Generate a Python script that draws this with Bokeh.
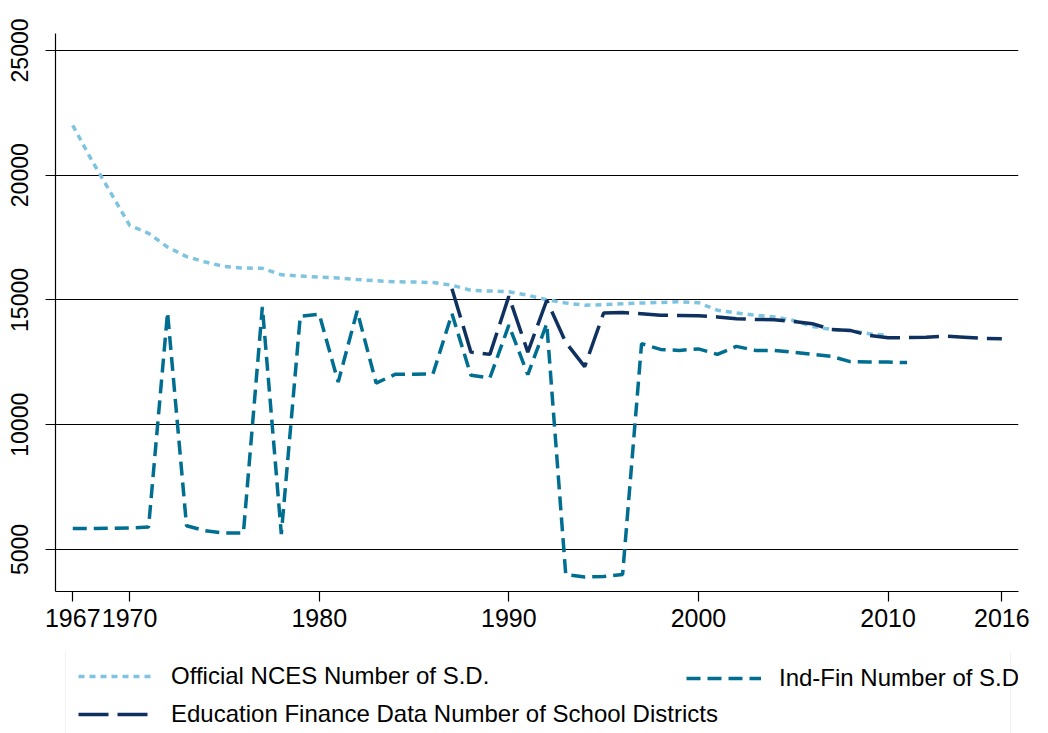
from bokeh.plotting import figure
from bokeh.models import FixedTicker, Legend, Range1d
from bokeh.layouts import column
from bokeh.embed import file_html
from bokeh.resources import INLINE

# ---- data -------------------------------------------------------------
years_nces = list(range(1967, 2011))
nces = [22000, 20600, 19300, 17990, 17670, 17120, 16740, 16520, 16340, 16280,
        16270, 16010, 15960, 15920, 15880, 15820, 15770, 15730, 15720, 15700,
        15590, 15390, 15360, 15330, 15190, 15010, 14880, 14790, 14810, 14850,
        14880, 14900, 14930, 14890, 14590, 14480, 14390, 14320, 14180, 13940,
        13820, 13780, 13650, 13580]

years_indfin = list(range(1967, 2012))
indfin = [5840, 5840, 5850, 5860, 5900, 14500, 5950, 5750, 5660, 5660,
          14720, 5620, 14350, 14430, 11710, 14560, 11670, 12020, 12020, 12040,
          14450, 11980, 11880, 13990, 12010, 14050, 4000, 3900, 3920, 4000,
          13250, 13020, 12980, 13040, 12820, 13140, 12980, 12980, 12910, 12820,
          12740, 12530, 12510, 12510, 12490]

years_efd = list(range(1987, 2017))
efd = [15450, 12910, 12820, 15150, 12910, 14990, 13300, 12330, 14480, 14500,
       14450, 14390, 14380, 14370, 14320, 14250, 14220, 14210, 14140, 14050,
       13820, 13780, 13580, 13490, 13490, 13510, 13550, 13510, 13460, 13450]

x_ticks = [1967, 1970, 1980, 1990, 2000, 2010, 2016]
y_ticks = [5000, 10000, 15000, 20000, 25000]

labels = ["Official NCES Number of S.D.",
          "Ind-Fin Number of S.D.",
          "Education Finance Data Number of School Districts"]

series = [(years_nces, nces, "#7ec4e0", "6 5"),
          (years_indfin, indfin, "#006e91", "14 7"),
          (years_efd, efd, "#0e3160", "30 9")]

FONT = "Liberation Sans"

# ---- main chart -------------------------------------------------------
p = figure(width=1048, height=652, output_backend="svg", toolbar_location=None,
           x_range=Range1d(1966.09, 2016.88), y_range=Range1d(3317, 25680),
           min_border_left=55, min_border_right=30, min_border_top=33,
           min_border_bottom=61)
p.outline_line_color = None
p.background_fill_color = "white"
p.border_fill_color = "white"

for xs, ys, col, dash in series:
    p.line(xs, ys, line_color=col, line_width=3.5, line_dash=dash)

p.xgrid.visible = False
p.ygrid.ticker = FixedTicker(ticks=y_ticks)
p.ygrid.grid_line_color = "black"
p.ygrid.grid_line_width = 1

p.xaxis.ticker = FixedTicker(ticks=x_ticks)
p.yaxis.ticker = FixedTicker(ticks=y_ticks)
for ax in (p.xaxis[0], p.yaxis[0]):
    ax.axis_line_color = "black"
    ax.axis_line_width = 1.2
    ax.major_tick_line_color = "black"
    ax.major_tick_line_width = 1.2
    ax.major_tick_out = 10
    ax.major_tick_in = 0
    ax.minor_tick_line_color = None
    ax.major_label_text_font = FONT
    ax.major_label_text_color = "black"
p.xaxis.major_label_text_font_size = "25px"
p.xaxis.major_label_standoff = 7
p.yaxis.major_label_text_font_size = "23px"
p.yaxis.major_label_orientation = "vertical"
p.yaxis.major_label_standoff = 17

# ---- legend strip (same series, drawn out of view, only the legend shows) --
q = figure(width=1048, height=81, output_backend="svg", toolbar_location=None,
           x_range=Range1d(0, 1), y_range=Range1d(0, 1),
           min_border_left=0, min_border_right=0, min_border_top=0,
           min_border_bottom=0)
q.axis.visible = False
q.grid.visible = False
q.outline_line_color = None
q.background_fill_color = "white"
q.border_fill_color = "white"
rends = [q.line(xs, ys, line_color=col, line_width=3.5, line_dash=dash)
         for xs, ys, col, dash in series]


def style(lg):
    lg.label_text_font = FONT
    lg.label_text_font_size = "24px"
    lg.label_text_color = "black"
    lg.glyph_width = 75
    lg.glyph_height = 26
    lg.label_standoff = 18
    lg.margin = 0


# boxed legend: first column (Official NCES / Education Finance Data)
leg_a = Legend(items=[(labels[0], [rends[0]]), (labels[2], [rends[2]])],
               location=(10, -8), orientation="vertical")
style(leg_a)
leg_a.spacing = 10
leg_a.padding = 12
leg_a.label_width = 827
leg_a.border_line_color = "#dfe6ee"
leg_a.border_line_width = 1
leg_a.background_fill_color = "white"
q.add_layout(leg_a, "center")

# second column, first row (Ind-Fin)
leg_b = Legend(items=[(labels[1], [rends[1]])], location=(631, 41),
               orientation="vertical")
style(leg_b)
leg_b.padding = 0
leg_b.border_line_color = None
leg_b.background_fill_alpha = 0
q.add_layout(leg_b, "center")

layout = column(p, q, spacing=0)
open("out.html", "w").write(file_html(layout, INLINE))
